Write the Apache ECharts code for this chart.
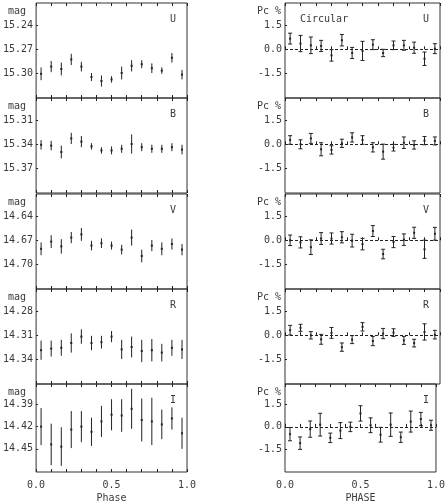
<!DOCTYPE html>
<html>
<head>
<meta charset="utf-8">
<script src="https://cdn.jsdelivr.net/npm/echarts@6/dist/echarts.min.js"></script>
<style>
  html, body { margin: 0; padding: 0; background: #fff; }
  #chart { width: 448px; height: 504px; }
</style>
</head>
<body>
<div id="chart"></div>
<script>
// phase bin centres (15 bins)
const phase = [0.033, 0.1, 0.167, 0.233, 0.3, 0.367, 0.433, 0.5, 0.567, 0.633, 0.7, 0.767, 0.833, 0.9, 0.967]
const bands = ['U', 'B', 'V', 'R', 'I']

// magnitudes and errors
const magU = [15.301, 15.292, 15.295, 15.283, 15.292, 15.305, 15.310, 15.308, 15.300, 15.291, 15.289, 15.294, 15.297, 15.281, 15.302]
const magUErr = [0.008, 0.007, 0.008, 0.007, 0.006, 0.005, 0.007, 0.004, 0.008, 0.007, 0.005, 0.006, 0.004, 0.006, 0.006]
const magB = [15.341, 15.342, 15.350, 15.333, 15.337, 15.343, 15.348, 15.348, 15.346, 15.340, 15.344, 15.346, 15.346, 15.344, 15.347]
const magBErr = [0.006, 0.006, 0.008, 0.007, 0.007, 0.004, 0.004, 0.005, 0.005, 0.012, 0.005, 0.005, 0.005, 0.005, 0.006]
const magV = [14.681, 14.672, 14.678, 14.667, 14.663, 14.677, 14.674, 14.677, 14.682, 14.667, 14.690, 14.677, 14.681, 14.675, 14.682]
const magVErr = [0.008, 0.008, 0.009, 0.007, 0.008, 0.006, 0.006, 0.005, 0.006, 0.010, 0.008, 0.007, 0.008, 0.007, 0.007]
const magR = [14.329, 14.327, 14.326, 14.320, 14.312, 14.320, 14.319, 14.312, 14.328, 14.325, 14.330, 14.329, 14.332, 14.326, 14.328]
const magRErr = [0.012, 0.010, 0.010, 0.012, 0.009, 0.009, 0.008, 0.007, 0.012, 0.013, 0.014, 0.014, 0.011, 0.010, 0.012]
const magI = [14.420, 14.444, 14.447, 14.424, 14.420, 14.427, 14.413, 14.404, 14.405, 14.396, 14.411, 14.413, 14.417, 14.409, 14.429]
const magIErr = [0.025, 0.028, 0.026, 0.025, 0.021, 0.019, 0.021, 0.021, 0.022, 0.027, 0.029, 0.032, 0.020, 0.015, 0.021]

// circular polarization (%) and errors
const pcU = [0.67, 0.36, 0.25, 0.21, -0.38, 0.57, -0.23, -0.10, 0.29, -0.23, 0.25, 0.25, 0.10, -0.59, 0.04]
const pcUErr = [0.34, 0.51, 0.52, 0.35, 0.36, 0.36, 0.35, 0.60, 0.31, 0.23, 0.27, 0.31, 0.35, 0.42, 0.31]
const pcB = [0.27, 0.00, 0.37, -0.31, -0.35, 0.06, 0.43, 0.27, -0.19, -0.46, -0.21, 0.10, -0.04, 0.23, 0.21]
const pcBErr = [0.27, 0.28, 0.31, 0.41, 0.26, 0.26, 0.29, 0.27, 0.29, 0.47, 0.21, 0.36, 0.26, 0.26, 0.25]
const pcV = [0.00, -0.13, -0.43, 0.11, 0.11, 0.19, -0.02, -0.24, 0.58, -0.86, -0.11, 0.04, 0.47, -0.56, 0.41]
const pcVErr = [0.33, 0.35, 0.46, 0.37, 0.35, 0.35, 0.40, 0.36, 0.34, 0.30, 0.35, 0.36, 0.35, 0.57, 0.40]
const pcR = [0.32, 0.47, 0.00, -0.25, 0.15, -0.74, -0.27, 0.53, -0.36, 0.11, 0.17, -0.32, -0.49, 0.21, 0.04]
const pcRErr = [0.30, 0.22, 0.23, 0.31, 0.34, 0.26, 0.25, 0.26, 0.29, 0.32, 0.24, 0.25, 0.24, 0.51, 0.27]
const pcI = [-0.49, -1.10, -0.15, 0.15, -0.74, -0.25, 0.00, 0.91, 0.11, -0.53, 0.15, -0.70, 0.36, 0.53, 0.11]
const pcIErr = [0.45, 0.42, 0.55, 0.77, 0.32, 0.54, 0.32, 0.52, 0.50, 0.50, 0.79, 0.35, 0.71, 0.45, 0.34]

// tick labels
const magTicks = [
  [15.24, 15.27, 15.30],
  [15.31, 15.34, 15.37],
  [14.64, 14.67, 14.70],
  [14.28, 14.31, 14.34],
  [14.39, 14.42, 14.45]
]
const pcTicks = [-1.5, 0, 1.5]
const phaseTicks = [0, 0.5, 1]

const magSets = [[magU, magUErr], [magB, magBErr], [magV, magVErr], [magR, magRErr], [magI, magIErr]]
const pcSets = [[pcU, pcUErr], [pcB, pcBErr], [pcV, pcVErr], [pcR, pcRErr], [pcI, pcIErr]]

const chart = echarts.init(document.getElementById('chart'))
const font = 'DejaVu Sans Mono'
const ink = '#222'
const txt = '#3a3a3a'
const tops = [3, 98, 194, 289, 384]
const panelH = 95

// error bar with optional end caps and a small centre dot
const errRender = (caps) => (params, api) => {
  const x = api.value(0), y = api.value(1), e = api.value(2)
  const c = api.coord([x, y])
  const a = api.coord([x, y - e])
  const b = api.coord([x, y + e])
  const kids = [
    { type: 'line', shape: { x1: c[0], y1: a[1], x2: c[0], y2: b[1] }, style: { stroke: ink, lineWidth: 1 } }
  ]
  if (caps) {
    kids.push({ type: 'line', shape: { x1: c[0] - 2, y1: a[1], x2: c[0] + 2, y2: a[1] }, style: { stroke: ink, lineWidth: 1 } })
    kids.push({ type: 'line', shape: { x1: c[0] - 2, y1: b[1], x2: c[0] + 2, y2: b[1] }, style: { stroke: ink, lineWidth: 1 } })
  }
  kids.push({ type: 'rect', shape: { x: c[0] - 1, y: c[1] - 1, width: 2, height: 2 }, style: { fill: ink } })
  return { type: 'group', children: kids }
}

const grids = [], xAxes = [], yAxes = [], series = [], texts = []

for (let col = 0; col < 2; col++) {
  for (let r = 0; r < 5; r++) {
    const gi = grids.length
    const left = col ? 285 : 33
    grids.push({ left, top: tops[r], width: col ? 155 : 154, height: panelH, show: true, borderColor: '#333', borderWidth: 1, backgroundColor: 'transparent' })
    const tick = { inside: true, length: 3, lineStyle: { color: ink, width: 1 } }
    const last = r === 4
    xAxes.push({
      gridIndex: gi, type: 'value', min: 0, max: 1, interval: 0.1,
      axisLine: { show: false }, splitLine: { show: false }, axisTick: tick,
      axisLabel: last
        ? { customValues: phaseTicks, formatter: v => v.toFixed(1), fontFamily: font, fontSize: 10, color: txt, margin: 8 }
        : { show: false },
      name: last ? (col ? 'PHASE' : 'Phase') : '',
      nameLocation: 'middle', nameGap: 21,
      nameTextStyle: { fontFamily: font, fontSize: 10, color: txt }
    })
    xAxes.push({
      gridIndex: gi, type: 'value', position: 'top', min: 0, max: 1, interval: 0.1,
      axisLine: { show: false }, splitLine: { show: false }, axisTick: tick, axisLabel: { show: false }
    })
    let ymin, ymax, ticks, fmt
    if (col === 0) {
      ticks = magTicks[r]
      ymin = ticks[0] - 0.0275
      ymax = ymin + 0.11875
      fmt = v => v.toFixed(2)
    } else {
      ticks = pcTicks
      ymax = 2.9
      ymin = -3.05
      fmt = v => v.toFixed(1)
    }
    yAxes.push({
      gridIndex: gi, type: 'value', min: ymin, max: ymax, inverse: col === 0,
      axisLine: { show: false }, splitLine: { show: false },
      axisTick: { inside: true, length: 2, customValues: ticks, lineStyle: { color: ink, width: 1 } },
      axisLabel: { customValues: ticks, formatter: fmt, fontFamily: font, fontSize: 10, color: txt, margin: 3 }
    })
    const set = col ? pcSets[r] : magSets[r]
    const s = {
      type: 'custom', xAxisIndex: gi * 2, yAxisIndex: gi,
      renderItem: errRender(col === 1),
      data: phase.map((p, i) => [p, set[0][i], set[1][i]]),
      encode: { x: 0, y: 1 },
      silent: true, clip: false
    }
    if (col === 1) {
      s.markLine = {
        silent: true, symbol: 'none', label: { show: false },
        lineStyle: { type: [3, 2], color: ink, width: 1 },
        data: [{ yAxis: 0 }]
      }
    }
    series.push(s)

    // panel annotations
    const ts = { fontFamily: font, fontSize: 10, fill: txt }
    texts.push({ type: 'text', left: col ? 257 : 8, top: tops[r] + 3, style: { ...ts, text: col ? 'Pc %' : 'mag' } })
    texts.push({ type: 'text', left: col ? 423 : 170, top: tops[r] + 11, style: { ...ts, text: bands[r] } })
    if (col === 1 && r === 0) {
      texts.push({ type: 'text', left: 300, top: tops[r] + 11, style: { ...ts, text: 'Circular' } })
    }
  }
}

const option = {
  backgroundColor: '#fff',
  animation: false,
  grid: grids,
  xAxis: xAxes,
  yAxis: yAxes,
  series,
  graphic: texts
}
option && chart.setOption(option)
</script>
</body>
</html>
